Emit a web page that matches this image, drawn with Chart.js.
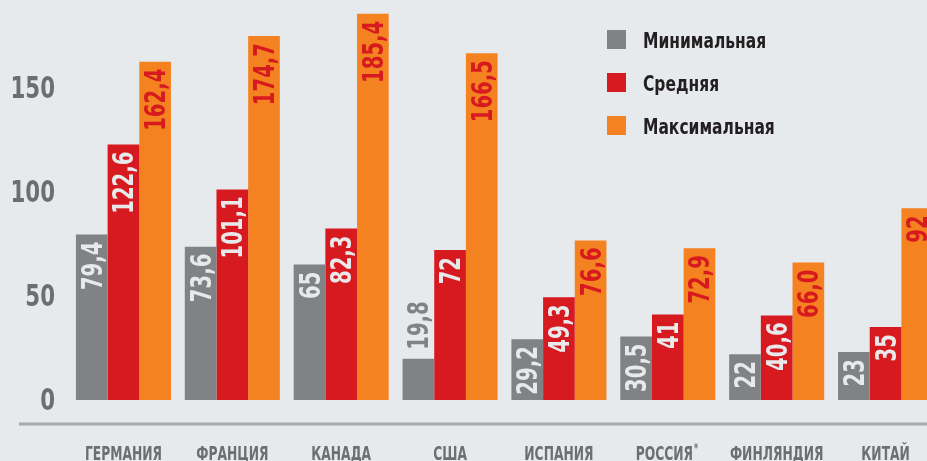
<!DOCTYPE html>
<html>
<head>
<meta charset="utf-8">
<script src="https://cdn.jsdelivr.net/npm/chart.js@4/dist/chart.umd.min.js"></script>
<style>
  html, body { margin: 0; padding: 0; background: #E7EAED; overflow: hidden; }
  #wrap { width: 927px; height: 461px; overflow: hidden; }
</style>
</head>
<body>
<div id="wrap"><canvas id="prices" width="940" height="461"></canvas></div>
<script>
const countries = ["ГЕРМАНИЯ", "ФРАНЦИЯ", "КАНАДА", "США", "ИСПАНИЯ", "РОССИЯ*", "ФИНЛЯНДИЯ", "КИТАЙ"];

const minValues = [79.4, 73.6, 65, 19.8, 29.2, 30.5, 22, 23];
const avgValues = [122.6, 101.1, 82.3, 72, 49.3, 41, 40.6, 35];
const maxValues = [162.4, 174.7, 185.4, 166.5, 76.6, 72.9, 66.0, 92];

const minLabels = ["79,4", "73,6", "65", "19,8", "29,2", "30,5", "22", "23"];
const avgLabels = ["122,6", "101,1", "82,3", "72", "49,3", "41", "40,6", "35"];
const maxLabels = ["162,4", "174,7", "185,4", "166,5", "76,6", "72,9", "66,0", "92"];

const yTicks = [0, 50, 100, 150];

// no narrow font installed, so the condensed look is done by squeezing the text
const FONT = "'DejaVu Sans Condensed', 'DejaVu Sans', sans-serif";

const prices = document.getElementById("prices");

function squeezed(ctx, text, x, y, sx) {
  ctx.save();
  ctx.translate(x, y);
  ctx.scale(sx, 1);
  ctx.fillText(text, 0, 0);
  ctx.restore();
}

// value labels written up inside the bars
const barLabels = {
  id: "barLabels",
  afterDatasetsDraw(chart) {
    const ctx = chart.ctx;
    const sx = 0.78;
    ctx.save();
    ctx.font = "bold 28px " + FONT;
    ctx.textBaseline = "alphabetic";
    chart.data.datasets.forEach((ds, i) => {
      const meta = chart.getDatasetMeta(i);
      meta.data.forEach((bar, j) => {
        const text = ds.valueLabels[j];
        const w = ctx.measureText(text).width * sx;
        const h = bar.base - bar.y;
        ctx.save();
        if (w + 4 > h) {
          // too small, put it above
          ctx.translate(bar.x, bar.y - 9);
          ctx.rotate(-Math.PI / 2);
          ctx.textAlign = "left";
          ctx.fillStyle = ds.backgroundColor;
        } else {
          ctx.translate(bar.x, bar.y + 7);
          ctx.rotate(-Math.PI / 2);
          ctx.textAlign = "right";
          ctx.fillStyle = ds.labelColor;
        }
        squeezed(ctx, text, 0, 10, sx);
        ctx.restore();
      });
    });
    ctx.restore();
  },
};

// axis labels, legend and the grey rule under the bars
const extras = {
  id: "extras",
  afterDraw(chart) {
    const ctx = chart.ctx;
    const area = chart.chartArea;
    const xs = chart.scales.x;
    const ys = chart.scales.y;
    ctx.save();
    ctx.strokeStyle = "#A7A9AC";
    ctx.lineWidth = 3;
    ctx.beginPath();
    ctx.moveTo(19, area.bottom + 24);
    ctx.lineTo(chart.width, area.bottom + 24);
    ctx.stroke();

    // y ticks
    ctx.fillStyle = "#6D6E71";
    ctx.font = "bold 30px " + FONT;
    ctx.textAlign = "right";
    ctx.textBaseline = "alphabetic";
    yTicks.forEach((v) => {
      squeezed(ctx, String(v), 55, ys.getPixelForValue(v) + 10, 0.79);
    });

    // categories
    ctx.font = "bold 19px " + FONT;
    ctx.textAlign = "left";
    const cx = 0.72;
    chart.data.labels.forEach((lab, i) => {
      const x = xs.getPixelForTick(i);
      let star = lab.endsWith("*");
      let base = star ? lab.slice(0, -1) : lab;
      let w = ctx.measureText(base).width * cx;
      let sw = star ? 7 : 0;
      let left = x - (w + sw) / 2;
      squeezed(ctx, base, left, 460, cx);
      if (star) {
        ctx.save();
        ctx.font = "bold 12px " + FONT;
        squeezed(ctx, "*", left + w + 1, 452, cx);
        ctx.restore();
      }
    });

    // legend
    ctx.font = "bold 21px " + FONT;
    chart.data.datasets.forEach((ds, i) => {
      const y = 30 + i * 43;
      ctx.fillStyle = ds.backgroundColor;
      ctx.fillRect(607, y, 19, 19);
      ctx.fillStyle = "#231F20";
      squeezed(ctx, ds.label, 643, y + 18, 0.82);
    });
    ctx.restore();
  },
};

new Chart(prices, {
  type: "bar",
  data: {
    labels: countries,
    datasets: [
      {
        label: "Минимальная",
        data: minValues,
        valueLabels: minLabels,
        backgroundColor: "#808285",
        labelColor: "#E8E9EA",
      },
      {
        label: "Средняя",
        data: avgValues,
        valueLabels: avgLabels,
        backgroundColor: "#D71920",
        labelColor: "#E8E9EA",
      },
      {
        label: "Максимальная",
        data: maxValues,
        valueLabels: maxLabels,
        backgroundColor: "#F58220",
        labelColor: "#D71920",
      },
    ],
  },
  options: {
    responsive: false,
    animation: false,
    layout: { padding: 0 },
    datasets: {
      bar: {
        categoryPercentage: 0.873,
        barPercentage: 1.0,
        borderWidth: 0,
      },
    },
    scales: {
      x: {
        grid: { display: false, drawTicks: false },
        border: { display: false },
        ticks: { display: false },
        afterFit: function (scale) {
          scale.height = 61;
          scale.paddingLeft = 0;
          scale.paddingRight = 0;
        },
      },
      y: {
        min: 0,
        max: 192,
        grid: { display: false, drawTicks: false },
        border: { display: false },
        ticks: { display: false },
        afterFit: function (scale) {
          scale.width = 69;
          scale.paddingTop = 0;
          scale.paddingBottom = 0;
        },
      },
    },
    plugins: {
      legend: { display: false },
      tooltip: { enabled: false },
      title: { display: false },
    },
  },
  plugins: [barLabels, extras],
});
</script>
</body>
</html>
